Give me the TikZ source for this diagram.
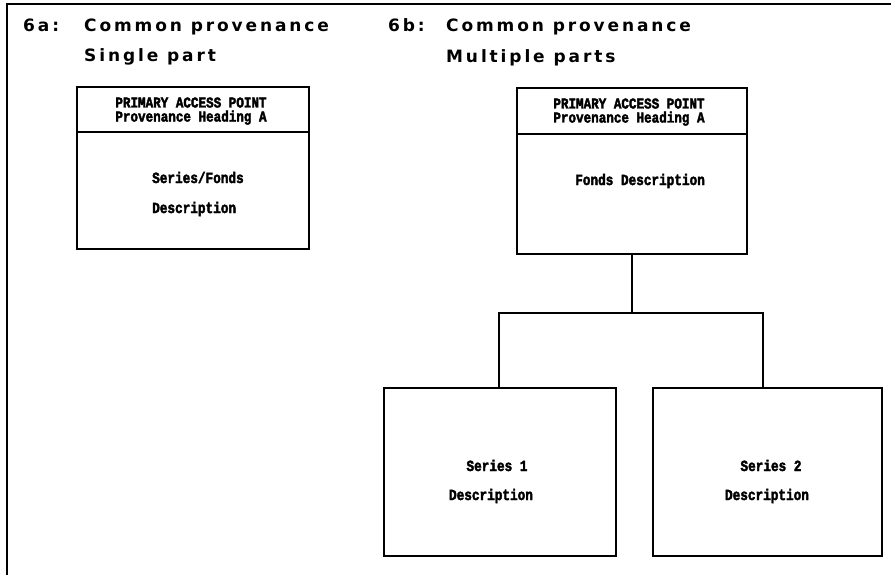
\documentclass[tikz,border=0pt]{standalone}
\usepackage{fontspec}
\newfontfamily\titlefont[LetterSpace=17]{DejaVu Sans}
\newfontfamily\hdrfont[FakeStretch=0.84,FakeBold=2.5]{Liberation Mono}
\newfontfamily\bodyfont[FakeStretch=0.82,FakeBold=2.5]{Liberation Mono}
\tikzset{
  frameline/.style={line width=1.2pt},
  box/.style={draw, line width=1.6pt, inner sep=0pt},
  ttl/.style={anchor=base west, inner sep=0pt, font=\titlefont\bfseries\fontsize{17}{17}\selectfont},
  hdr/.style={anchor=base, inner sep=0pt, font=\hdrfont\bfseries\fontsize{15}{15}\selectfont},
  bodl/.style={anchor=base west, inner sep=0pt, font=\bodyfont\bfseries\fontsize{15.5}{15.5}\selectfont},
  bodc/.style={anchor=base, inner sep=0pt, font=\bodyfont\bfseries\fontsize{15.5}{15.5}\selectfont},
  conn/.style={line width=1.2pt}
}
\begin{document}
\begin{tikzpicture}[x=1pt,y=-1pt]
\useasboundingbox (0,0) rectangle (891,575);
% outer frame (left and top only)
\coordinate (fbl) at (7,575);
\coordinate (ftl) at (7,4);
\coordinate (ftr) at (891,4);
\draw[frameline] (fbl) -- (ftl) -- (ftr);

% titles
\node[ttl] (t6a) at (23,32) {6a:};
\node[ttl] (t6aA) at (84,32) {Common provenance};
\node[ttl] (t6aB) at (84,62) {Single part};
\node[ttl] (t6b) at (388,32) {6b:};
\node[ttl] (t6bA) at (446,32) {Common provenance};
\node[ttl] (t6bB) at (446,63) {Multiple parts};

% box 6a
\node[box, minimum width=232pt, minimum height=45pt] (aHead) at (193,109.5) {};
\node[box, minimum width=232pt, minimum height=117pt] (aBody) at (193,190.5) {};
\node[hdr] (aH1) at (191,107.5) {PRIMARY ACCESS POINT};
\node[hdr] (aH2) at (191,121.5) {Provenance Heading A};
\node[bodl] (aT1) at (152,183) {Series/Fonds};
\node[bodl] (aT2) at (152,213) {Description};

% box 6b
\node[box, minimum width=230pt, minimum height=46pt] (bHead) at (632,111) {};
\node[box, minimum width=230pt, minimum height=120pt] (bBody) at (632,194) {};
\node[hdr] (bH1) at (629,108.5) {PRIMARY ACCESS POINT};
\node[hdr] (bH2) at (629,122.5) {Provenance Heading A};
\node[bodl] (bT1) at (575,185) {Fonds Description};

% children
\node[box, minimum width=232pt, minimum height=168pt] (s1) at (500,472) {};
\node[box, minimum width=229pt, minimum height=168pt] (s2) at (767.5,472) {};
\node[bodc] (s1T1) at (497,471) {Series 1};
\node[bodc] (s1T2) at (491,500) {Description};
\node[bodc] (s2T1) at (771,471) {Series 2};
\node[bodc] (s2T2) at (767,500) {Description};

% connectors
\coordinate (bar) at (632,313);
\draw[conn] (bBody.south) -- (bar);
\draw[conn] ([xshift=-1pt]s1.north) |- (bar) -| ([xshift=-4.5pt]s2.north);
\end{tikzpicture}
\end{document}
